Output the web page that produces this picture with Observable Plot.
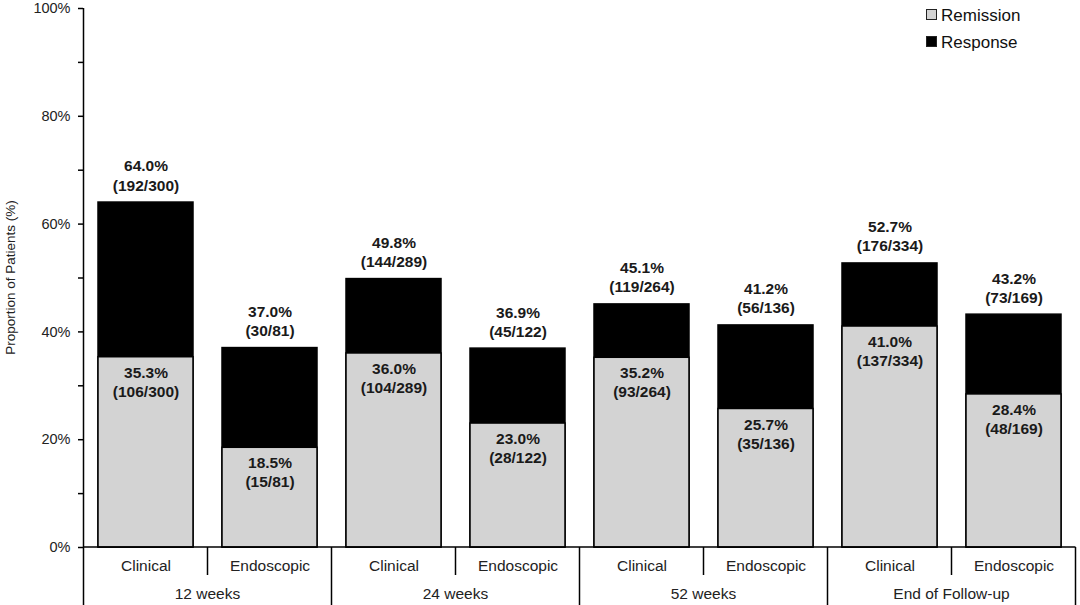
<!DOCTYPE html>
<html>
<head>
<meta charset="utf-8">
<script src="https://cdn.jsdelivr.net/npm/d3@7"></script>
<script src="https://cdn.jsdelivr.net/npm/@observablehq/plot@0.6"></script>
<style>
  body { margin: 0; background: #fff; font-family: "Liberation Sans", Arial, sans-serif; }
  #wrap { position: relative; width: 1080px; height: 605px; }
  .legend { position: absolute; left: 926px; top: 2px; font-size: 17px; color: #111; line-height: 27px; }
  .legend .sw { display: inline-block; width: 9px; height: 9px; border: 1px solid #222; margin-right: 4px; vertical-align: 1px; }
</style>
</head>
<body>
<div id="wrap"></div>
<script>
const groups = ["12 weeks", "24 weeks", "52 weeks", "End of Follow-up"];
const types = ["Clinical", "Endoscopic"];
const remission = [35.3, 18.5, 36.0, 23.0, 35.2, 25.7, 41.0, 28.4];
const remissionN = ["106/300", "15/81", "104/289", "28/122", "93/264", "35/136", "137/334", "48/169"];
const response = [64.0, 37.0, 49.8, 36.9, 45.1, 41.2, 52.7, 43.2];
const responseN = ["192/300", "30/81", "144/289", "45/122", "119/264", "56/136", "176/334", "73/169"];
const yTicks = [0, 10, 20, 30, 40, 50, 60, 70, 80, 90, 100];
const yTitle = "Proportion of Patients (%)";

const rows = remission.map((r, i) => ({
  group: groups[Math.floor(i / 2)],
  type: types[i % 2],
  key: groups[Math.floor(i / 2)] + "|" + types[i % 2],
  remission: r,
  remissionLabel: r.toFixed(1) + "%\n(" + remissionN[i] + ")",
  response: response[i],
  responseLabel: response[i].toFixed(1) + "%\n(" + responseN[i] + ")"
}));
const keys = rows.map(d => d.key);

// decorations: category dividers, axis line, group labels and y title, placed from the scales
function dividers(index, scales, values, dimensions) {
  const x = scales.x, y = scales.y;
  const step = x.step(), bw = x.bandwidth();
  const g = d3.create("svg:g").attr("stroke", "#000").attr("stroke-width", 1.5);
  const y0 = y(0), H = dimensions.height;
  const left = x(keys[0]) - (step - bw) / 2;
  g.append("line").attr("x1", left).attr("x2", left).attr("y1", y(100)).attr("y2", H);
  const right = x(keys[keys.length - 1]) + bw + (step - bw) / 2;
  g.append("line").attr("x1", left).attr("x2", right).attr("y1", y0).attr("y2", y0);
  groups.forEach((grp) => {
    const kEndo = grp + "|" + types[1];
    const mid = x(kEndo) - (step - bw) / 2;
    const end = x(kEndo) + bw + (step - bw) / 2;
    g.append("line").attr("x1", mid).attr("x2", mid).attr("y1", y0).attr("y2", y0 + 28);
    g.append("line").attr("x1", end).attr("x2", end).attr("y1", y0).attr("y2", H);
    g.append("text").attr("x", mid).attr("y", y0 + 52)
      .attr("text-anchor", "middle").attr("stroke", "none").attr("fill", "#222")
      .attr("font-size", 15.5).text(grp);
  });
  const cy = (y(0) + y(100)) / 2;
  g.append("text").attr("transform", `translate(15,${cy}) rotate(-90)`)
    .attr("text-anchor", "middle").attr("stroke", "none").attr("fill", "#222")
    .attr("font-size", 13.5).text(yTitle);
  return g.node();
}

const chart = Plot.plot({
  width: 1080,
  height: 605,
  marginLeft: 83,
  marginRight: 3,
  marginTop: 8,
  marginBottom: 58,
  style: { fontFamily: "Liberation Sans, Arial, sans-serif", color: "#222", background: "#fff" },
  x: { domain: keys, paddingInner: 0.23, paddingOuter: 0.115 },
  y: { domain: [0, 100] },
  marks: [
    Plot.barY(rows, { x: "key", y: "response", fill: "#000", stroke: "#000", strokeWidth: 1.5 }),
    Plot.barY(rows, { x: "key", y: "remission", fill: "#d3d3d3", stroke: "#000", strokeWidth: 1.5 }),
    Plot.text(rows, {
      x: "key", y: "remission", text: "remissionLabel", lineAnchor: "top", dy: 7,
      fontSize: 15.5, fontWeight: "bold", fill: "#1a1a1a", lineHeight: 1.23
    }),
    Plot.text(rows, {
      x: "key", y: "response", text: "responseLabel", lineAnchor: "bottom", dy: -12,
      fontSize: 15.5, fontWeight: "bold", fill: "#1a1a1a", lineHeight: 1.23
    }),
    Plot.axisY({
      ticks: yTicks, tickFormat: d => d % 20 === 0 ? d + "%" : "", tickSize: 5, tickPadding: 8,
      fontSize: 14.5, label: null, stroke: "#000", strokeWidth: 1.5
    }),
    Plot.axisX({
      tickFormat: d => d.split("|")[1], tickSize: 0, tickPadding: 12, fontSize: 15.5, label: null
    }),
    dividers
  ]
});

document.getElementById("wrap").appendChild(chart);
const legend = document.createElement("div");
legend.className = "legend";
legend.innerHTML = '<div><span class="sw" style="background:#d3d3d3"></span>Remission</div>' +
  '<div><span class="sw" style="background:#000"></span>Response</div>';
document.getElementById("wrap").appendChild(legend);
</script>
</body>
</html>
